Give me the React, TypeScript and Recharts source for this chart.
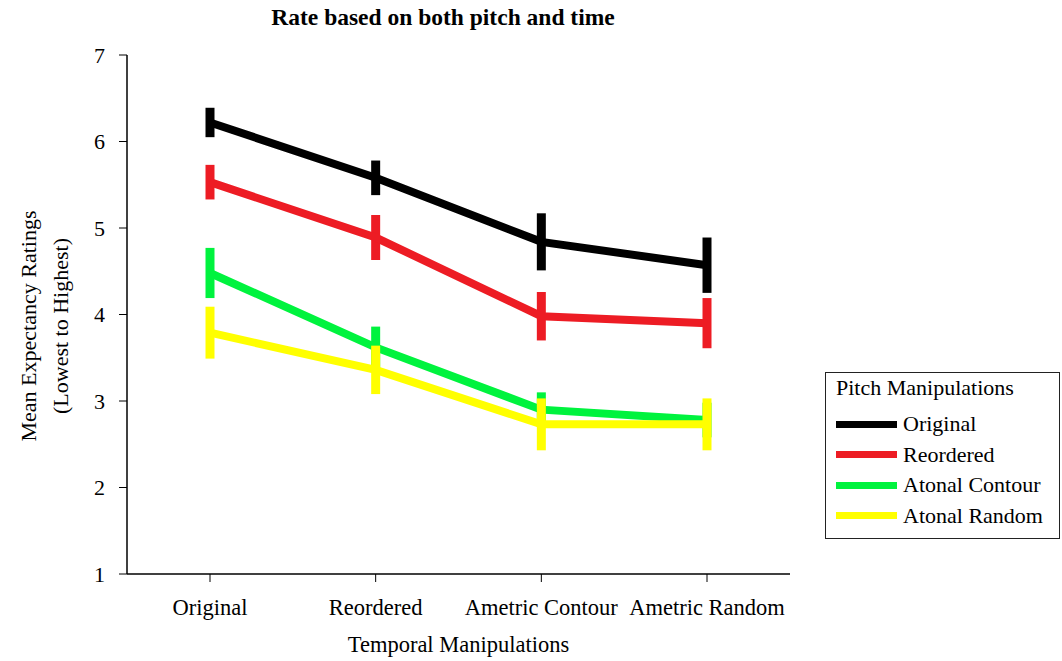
import React from 'react';
import { LineChart, Line, XAxis, YAxis, ErrorBar, Label } from 'recharts';

const categories = ['Original', 'Reordered', 'Ametric Contour', 'Ametric Random'];
const yTicks = [1, 2, 3, 4, 5, 6, 7];

const originalMeans = [6.22, 5.58, 4.84, 4.57];
const originalErr = [0.17, 0.2, 0.33, 0.32];
const reorderedMeans = [5.53, 4.89, 3.98, 3.9];
const reorderedErr = [0.2, 0.26, 0.28, 0.29];
const contourMeans = [4.48, 3.62, 2.9, 2.78];
const contourErr = [0.29, 0.24, 0.2, 0.2];
const randomMeans = [3.79, 3.36, 2.73, 2.73];
const randomErr = [0.3, 0.28, 0.3, 0.3];

const series = [
  { key: 'original', name: 'Original', color: '#000000' },
  { key: 'reordered', name: 'Reordered', color: '#ed1c24' },
  { key: 'contour', name: 'Atonal Contour', color: '#00f33e' },
  { key: 'random', name: 'Atonal Random', color: '#ffff00' },
];

const data = categories.map((cat, i) => ({
  cat,
  original: originalMeans[i],
  originalErr: originalErr[i],
  reordered: reorderedMeans[i],
  reorderedErr: reorderedErr[i],
  contour: contourMeans[i],
  contourErr: contourErr[i],
  random: randomMeans[i],
  randomErr: randomErr[i],
}));

const font = '"Liberation Serif", "Times New Roman", serif';

const YLabel = () => (
  <g>
    <text
      x={28}
      y={326}
      transform="rotate(-90, 28, 326)"
      textAnchor="middle"
      dominantBaseline="central"
      fontSize={22}
      fontFamily={font}
      fill="#000"
    >
      Mean Expectancy Ratings
    </text>
    <text
      x={60}
      y={326}
      transform="rotate(-90, 60, 326)"
      textAnchor="middle"
      dominantBaseline="central"
      fontSize={22}
      fontFamily={font}
      fill="#000"
    >
      (Lowest to Highest)
    </text>
  </g>
);

const App = () => {
  return (
    <div style={{ position: 'absolute', left: 0, top: 0, width: 1062, height: 661, background: '#fff', fontFamily: font }}>
      <div
        style={{
          position: 'absolute',
          left: 0,
          top: 4,
          width: 886,
          textAlign: 'center',
          fontWeight: 'bold',
          fontSize: 23.5,
          color: '#000',
        }}
      >
        Rate based on both pitch and time
      </div>

      <LineChart width={1062} height={661} data={data} margin={{ top: 55, right: 272, bottom: 9, left: 0 }}>
        <XAxis
          dataKey="cat"
          height={78}
          padding={{ left: 83, right: 83 }}
          axisLine={{ stroke: '#000', strokeWidth: 1.5 }}
          tickLine={{ stroke: '#000' }}
          tickSize={8}
          tickMargin={17}
          tick={{ fill: '#000', fontSize: 22.5, fontFamily: font }}
        >
          <Label value="Temporal Manipulations" position="insideBottom" offset={0} fill="#000" fontSize={22.5} fontFamily={font} />
        </XAxis>
        <YAxis
          width={127}
          domain={[1, 7]}
          ticks={yTicks}
          allowDataOverflow
          axisLine={{ stroke: '#000', strokeWidth: 1.5 }}
          tickLine={{ stroke: '#000' }}
          tickSize={8}
          tickMargin={14}
          tick={{ fill: '#000', fontSize: 22, fontFamily: font }}
        >
          <Label content={<YLabel />} />
        </YAxis>
        {series.map((s) => (
          <Line
            key={s.key}
            dataKey={s.key}
            name={s.name}
            stroke={s.color}
            strokeWidth={8}
            dot={false}
            activeDot={false}
            isAnimationActive={false}
          >
            <ErrorBar dataKey={`${s.key}Err`} width={0} stroke={s.color} strokeWidth={9} direction="y" isAnimationActive={false} />
          </Line>
        ))}
      </LineChart>

      <div
        style={{
          position: 'absolute',
          left: 825,
          top: 372,
          width: 235,
          height: 167,
          border: '1px solid #222',
          boxSizing: 'border-box',
          padding: '2px 0 0 10px',
          fontSize: 22,
          color: '#000',
        }}
      >
        <div style={{ height: 34, lineHeight: '26px' }}>Pitch Manipulations</div>
        {series.map((s) => (
          <div key={s.key} style={{ display: 'flex', alignItems: 'center', height: 30.5, whiteSpace: 'nowrap' }}>
            <div style={{ width: 61, height: 7, background: s.color, marginRight: 6, flexShrink: 0 }} />
            <span>{s.name}</span>
          </div>
        ))}
      </div>
    </div>
  );
};

export default App;
